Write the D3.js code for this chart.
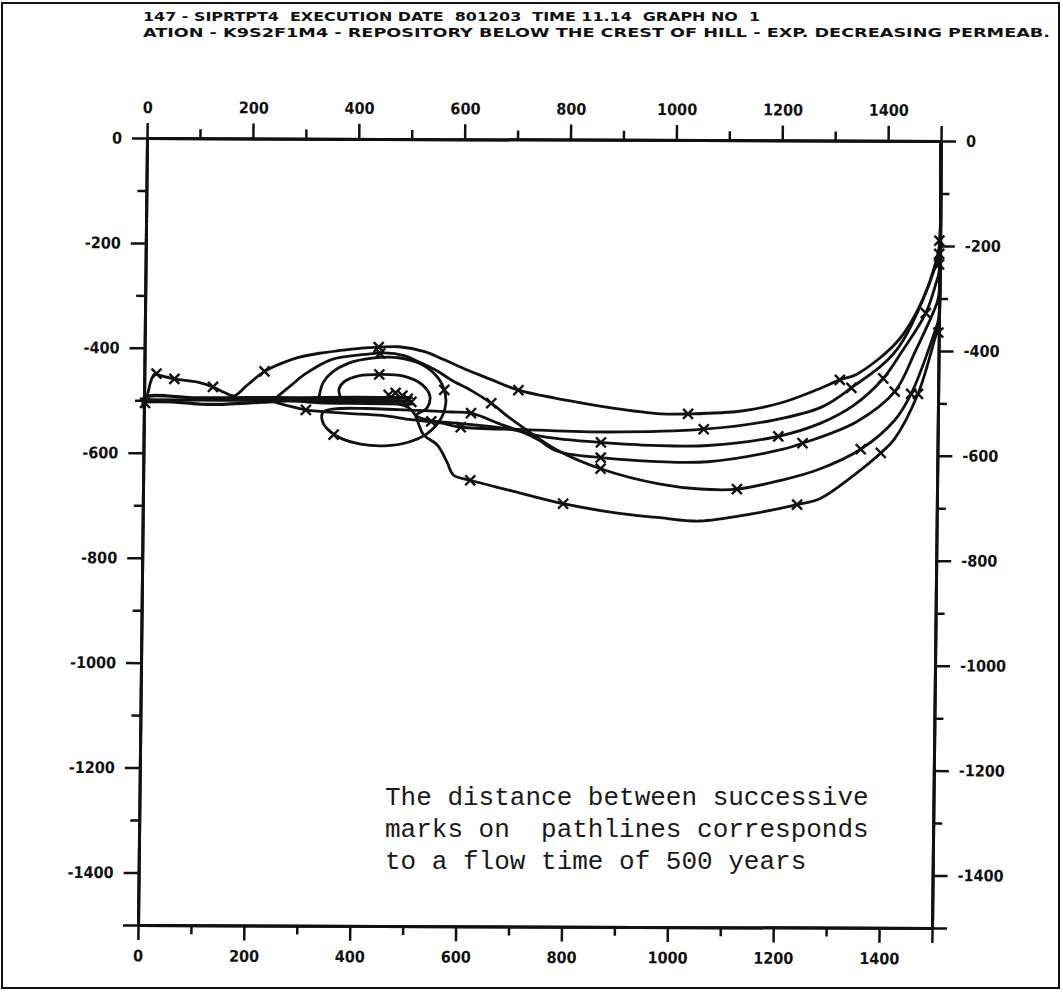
<!DOCTYPE html>
<html>
<head>
<meta charset="utf-8">
<script src="https://cdn.jsdelivr.net/npm/d3@7"></script>
<style>
  body { margin: 0; background: #fff; }
  svg { display: block; }
</style>
</head>
<body>
<script>
// ---- axis ticks ----
let xMajor = [0, 200, 400, 600, 800, 1000, 1200, 1400, 1500];
let xMinor = [100, 300, 500, 700, 900, 1100, 1300];
let yMajor = [0, -200, -400, -600, -800, -1000, -1200, -1400, -1500];
let yMinor = [-100, -300, -500, -700, -900, -1100, -1300];

let titleLines = [
  "147 - SIPRTPT4  EXECUTION DATE  801203  TIME 11.14  GRAPH NO  1",
  "ATION - K9S2F1M4 - REPOSITORY BELOW THE CREST OF HILL - EXP. DECREASING PERMEAB."
];
let noteLines = [
  "The distance between successive",
  "marks on  pathlines corresponds",
  "to a flow time of 500 years"
];

// ---- pathlines (x, z in m) ----
let bundle1 = [[505,-493],[400,-493],[300,-494],[200,-494],[100,-495],[0,-495],[0,-514]];
let bundle2 = [[500,-499],[400,-499],[300,-499],[250,-501],[200,-504],[150,-507],[110,-507],[60,-503],[0,-503]];
let bundle3 = [[505,-505],[420,-504],[330,-503],[270,-499],[150,-499],[0,-499]];

let pathA = [[0,-500],[6,-490],[12,-465],[19,-450],[28,-452],[57,-459],[101,-465],[130,-474],[151,-484],[170,-491],
  [195,-470],[227,-444],[260,-428],[291,-417],[330,-409],[366,-404],[410,-399],[442,-397],[480,-396],[529,-405],
  [565,-420],[610,-440],[656,-458],[707,-478],[800,-497],[889,-512],[977,-522],[1028,-522],[1129,-516],[1204,-500],
  [1273,-474],[1314,-456],[1346,-445],[1424,-380],[1470,-300],[1494,-226],[1499,-200],[1499,-5]];
let marksA = [[23,-449],[57,-459],[130,-474],[227,-444],[442,-397],[707,-478],[1028,-522],[1314,-456],[1499,-190]];

let pathB = [[253,-491],[278,-470],[302,-450],[353,-421],[416,-411],[453,-408],[490,-413],[523,-427],[555,-443],
  [580,-459],[620,-480],[656,-503],[690,-530],[725,-555],[782,-592],[864,-627],[977,-656],[1052,-665],[1122,-665],
  [1204,-648],[1273,-628],[1355,-588],[1418,-533],[1449,-482],[1494,-358],[1499,-340],[1499,-5]];
let marksB = [[445,-409],[656,-503],[864,-627],[1122,-665],[1355,-588],[1449,-482],[1499,-365]];

let pathC = [[240,-500],[275,-510],[306,-517],[378,-523],[450,-527],[505,-535],[561,-541],[599,-549],[718,-553],
  [877,-557],[1058,-551],[1190,-533],[1280,-508],[1336,-471],[1421,-398],[1494,-234],[1499,-210],[1499,-5]];
let marksC = [[306,-517],[543,-538],[599,-549],[1058,-551],[1336,-471],[1499,-215]];

let pathD = [[331,-490],[338,-465],[355,-445],[385,-428],[430,-418],[480,-417],[525,-430],[555,-455],[567,-478],
  [570,-505],[560,-535],[535,-562],[500,-578],[455,-585],[410,-582],[375,-572],[352,-558],[338,-540],[338,-522],
  [360,-515],[420,-514],[480,-516],[540,-518],[580,-520],[618,-522],[680,-545],[737,-563],[800,-572],[864,-577],
  [960,-582],[1066,-582],[1199,-564],[1280,-538],[1340,-505],[1396,-453],[1431,-401],[1475,-328],[1494,-270],
  [1499,-250],[1499,-5]];
let marksD = [[567,-478],[359,-564],[618,-522],[864,-577],[1199,-564],[1396,-453],[1475,-328],[1499,-235]];

let pathE = [[372,-495],[368,-478],[378,-463],[405,-452],[444,-449],[490,-452],[525,-468],[540,-490],[535,-512],
  [515,-527],[540,-536],[600,-542],[660,-548],[710,-556],[745,-572],[782,-594],[864,-606],[971,-613],[1066,-613],
  [1198,-591],[1245,-577],[1346,-536],[1418,-478],[1456,-401],[1494,-314],[1499,-295],[1499,-5]];
let marksE = [[444,-449],[864,-606],[1245,-577],[1418,-478]];

let pathF = [[480,-505],[500,-512],[512,-525],[520,-545],[529,-564],[555,-583],[574,-616],[586,-640],[618,-650],
  [693,-669],[794,-694],[900,-712],[977,-720],[1052,-726],[1150,-712],[1236,-694],[1280,-682],[1346,-635],
  [1393,-595],[1418,-569],[1462,-482],[1494,-372],[1499,-355],[1499,-5]];
let marksF = [[618,-650],[794,-694],[1236,-694],[1393,-595],[1462,-482]];

let repoMarks = [[462,-488],[475,-484],[488,-489],[498,-495],[505,-501],[2,-505]];

let pathlines = [bundle1, bundle2, bundle3, pathA, pathB, pathC, pathD, pathE, pathF];
let markSets = [marksA, marksB, marksC, marksD, marksE, marksF, repoMarks];

/****************************************************************************************************************
	page
****************************************************************************************************************/
let w = 1063, h = 999;
let svg = d3.select("body").append("svg").attr("width", w).attr("height", h);
svg.append("rect").attr("width", w).attr("height", h).style("fill", "#fff");

svg.append("rect")
  .attr("x", 2).attr("y", 3).attr("width", 1057).attr("height", 985)
  .style("fill", "none").style("stroke", "#111").style("stroke-width", 2);

let titleFont = "'DejaVu Sans Condensed','DejaVu Sans',sans-serif";
let titleEnds = [760, 1050];
svg.selectAll("text.title").data(titleLines).enter().append("text")
  .attr("class", "title")
  .attr("x", 143)
  .attr("y", (d, i) => 21 + i * 16)
  .attr("textLength", (d, i) => titleEnds[i] - 143)
  .attr("lengthAdjust", "spacingAndGlyphs")
  .style("white-space", "pre")
  .style("font-family", titleFont)
  .style("font-weight", "bold")
  .style("font-size", "13px")
  .style("fill", "#111")
  .text(d => d);

// plot frame is slightly skewed on the scan, so the whole plot lives in a sheared group
let pw = 794, ph = 787;
let plot = svg.append("g").attr("transform", "matrix(1,0.0038,-0.0114,1,147,138)");
let x = d3.scaleLinear().domain([0, 1500]).range([0, pw]);
let y = d3.scaleLinear().domain([0, -1500]).range([0, ph]);

let fmt = d => (d === 1500 || d === -1500) ? "" : String(d);
let labelFont = "'DejaVu Sans Condensed','DejaVu Sans',sans-serif";

function styleAxis(g) {
  g.select(".domain").style("stroke", "#111").style("stroke-width", 3);
  g.selectAll(".tick line").style("stroke", "#111").style("stroke-width", 2.5);
  g.selectAll(".tick text")
    .style("font-family", labelFont).style("font-weight", "bold")
    .style("font-size", "16px").style("fill", "#111");
}

function addAxis(axisFn, scale, major, minor, tx, ty) {
  let g1 = plot.append("g").attr("transform", `translate(${tx},${ty})`)
    .call(axisFn(scale).tickValues(major).tickSize(15).tickSizeOuter(0).tickPadding(10).tickFormat(fmt));
  styleAxis(g1);
  let g2 = plot.append("g").attr("transform", `translate(${tx},${ty})`)
    .call(axisFn(scale).tickValues(minor).tickSize(9).tickSizeOuter(0).tickFormat(""));
  styleAxis(g2);
}

addAxis(d3.axisTop, x, xMajor, xMinor, 0, 0);
addAxis(d3.axisBottom, x, xMajor, xMinor, 0, ph);
addAxis(d3.axisLeft, y, yMajor, yMinor, 0, 0);
addAxis(d3.axisRight, y, yMajor, yMinor, pw, 0);

// pathlines
let line = d3.line().x(d => x(d[0])).y(d => y(d[1])).curve(d3.curveCatmullRom.alpha(0.5));
plot.selectAll("path.pl").data(pathlines).enter().append("path")
  .attr("class", "pl")
  .attr("d", line)
  .style("fill", "none").style("stroke", "#111")
  .style("stroke-width", (d, i) => i < 3 ? 3.2 : 2.8)
  .style("stroke-linejoin", "round").style("stroke-linecap", "round");

// 500-year marks
let allMarks = markSets.flat();
plot.selectAll("path.mk").data(allMarks).enter().append("path")
  .attr("class", "mk")
  .attr("transform", d => `translate(${x(d[0])},${y(d[1])})`)
  .attr("d", "M-5,-5L5,5M-5,5L5,-5")
  .style("fill", "none").style("stroke", "#111").style("stroke-width", 2.4);

// typed note
svg.selectAll("text.note").data(noteLines).enter().append("text")
  .attr("class", "note")
  .attr("x", 385)
  .attr("y", (d, i) => 805 + i * 32)
  .style("white-space", "pre")
  .style("font-family", "'Liberation Mono','DejaVu Sans Mono',monospace")
  .style("font-size", "26px")
  .style("fill", "#1a1a1a")
  .text(d => d);
</script>
</body>
</html>
